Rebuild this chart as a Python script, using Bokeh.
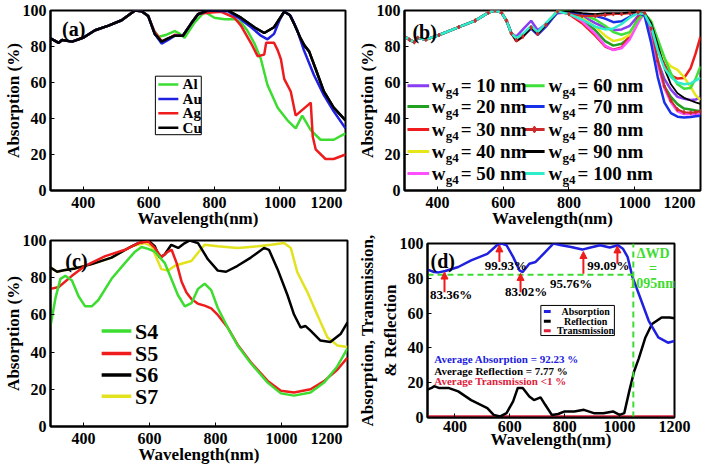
from bokeh.plotting import figure
from bokeh.layouts import column, row
from bokeh.models import Range1d, FixedTicker, Arrow, NormalHead
from bokeh.core.properties import value
from bokeh.embed import file_html
from bokeh.resources import INLINE

FONT = "Liberation Serif"

# ---------------- data ----------------
# (a) metals
CU_X = [300, 325, 335, 366, 401, 436, 477, 517, 543, 558, 578, 598, 618, 639, 659, 679, 704, 730, 750, 780, 841, 881, 922, 952, 982, 1013, 1030, 1045, 1063, 1075, 1089, 1109, 1134, 1164, 1200]
CU_Y = [84.5, 82, 83.6, 82.7, 85, 89, 91.6, 94.6, 98, 100, 99.6, 97, 87, 82.7, 84.5, 86, 86, 93, 97.9, 100, 100, 96, 90.7, 87.5, 90.7, 99.3, 97.5, 92, 84.5, 80.5, 77.3, 67.5, 55, 46, 39]
AU_X = [300, 325, 335, 366, 401, 436, 477, 517, 543, 558, 578, 598, 618, 639, 659, 679, 704, 730, 750, 780, 841, 881, 912, 942, 962, 982, 998, 1013, 1033, 1053, 1073, 1104, 1134, 1164, 1200]
AU_Y = [84.5, 82, 83.6, 82.7, 85, 89, 91.6, 94.6, 98, 100, 99.6, 97, 87, 81.6, 83.6, 86, 86, 93, 97.9, 100, 99.6, 95, 90.7, 86, 84, 87, 94.3, 99.6, 97, 89, 78, 64, 53, 44, 34.5]
AL_X = [300, 325, 335, 366, 401, 436, 477, 517, 543, 558, 578, 598, 615, 630, 649, 679, 695, 709, 740, 770, 800, 831, 861, 881, 900, 922, 942, 962, 993, 1023, 1048, 1068, 1094, 1124, 1164, 1200]
AL_Y = [84.5, 82, 83.6, 82.7, 85, 89, 91.6, 94.6, 98, 100, 99.6, 97, 89, 85.4, 86.2, 88.6, 87, 84.8, 93.4, 99.3, 96, 95.2, 95.2, 93.4, 89, 81.8, 72.9, 58.6, 46, 39, 34.5, 41.6, 33.6, 28.2, 28.2, 31.8]
AG_X = [300, 325, 335, 366, 401, 436, 477, 517, 543, 558, 578, 598, 618, 639, 649, 679, 704, 730, 750, 780, 821, 861, 881, 912, 932, 952, 958, 982, 993, 1003, 1013, 1033, 1048, 1094, 1100, 1109, 1139, 1164, 1200]
AG_Y = [84.5, 82, 83.6, 82.7, 85, 89, 91.6, 94.6, 98, 100, 99.6, 97, 88, 83, 83.2, 86.5, 86, 93, 98, 98.8, 99.3, 96, 91.6, 81.8, 74.6, 75.5, 82.1, 82.1, 78, 72.9, 62, 55, 41.6, 48.8, 30, 22.9, 17.5, 17.5, 20]

# (b) gap width w_g4 sweep
B_X = [300, 315, 330, 340, 365, 405, 465, 515, 555, 575, 595, 610, 625, 640, 660, 685, 705, 730, 765, 800, 840, 880, 910, 935, 960, 985, 1010, 1030, 1050, 1070, 1090, 1110, 1130, 1150, 1170, 1185, 1200]
B_HEAD = [85.5, 83.8, 82.4, 84.8, 83.8, 86.4, 90.8, 94.4, 98.8, 100, 98.8, 94.4, 87.3]
W10 = B_HEAD + [85.5, 89.5, 94.3, 89, 92.5, 98.5, 99, 97, 93, 90.5, 89, 89.5, 91.5, 97, 98, 90, 72, 62, 56, 52, 51, 50.3, 50.5, 52]
W20 = B_HEAD + [84, 86, 91, 87.3, 92, 99.5, 99, 95, 89, 83, 80.5, 81.5, 85, 95, 98, 88, 72, 58, 52, 48, 45.5, 45, 44.5, 44]
W30 = B_HEAD + [83, 85.5, 90.5, 87, 92, 99.5, 98, 93, 86, 80, 78.2, 79.5, 86, 96, 98.5, 92, 80, 70, 64, 62.2, 62.5, 68, 76, 85.5]
W40 = B_HEAD + [84, 86, 91, 87.3, 92, 99.5, 99, 96, 91, 86, 83, 84, 86.5, 94, 98, 94, 83, 73, 69, 67, 63, 57.5, 53, 50.3]
W50 = B_HEAD + [84, 86, 91, 87.3, 92, 99.5, 98.5, 94, 87, 80.5, 78, 79, 84, 93, 99, 88, 70, 57, 49, 44, 42.5, 42.3, 42.3, 42.3]
W60 = B_HEAD + [84.5, 86.5, 91, 87.5, 92.5, 99.5, 99.5, 98, 95, 91.5, 88, 86.5, 88, 95, 98.5, 94, 84, 74, 65, 59, 56.5, 57, 62, 69]
W70 = B_HEAD + [84, 86, 90, 86.5, 91, 99, 99, 98, 97, 95.5, 93.5, 94, 96.5, 99, 97, 82, 63, 49, 43, 41, 40.5, 40.8, 41.3, 41.5]
W80 = B_HEAD + [83.5, 85.5, 90.5, 87, 92, 99.5, 98, 97, 97, 97.5, 98, 98, 98.5, 99, 98.5, 90, 72, 58, 50, 45, 43.5, 43.2, 43.5, 44]
W90 = B_HEAD + [83, 85.5, 90.5, 87, 92, 99.5, 99.5, 98.5, 98, 98.5, 98.5, 98.5, 99, 99, 98.5, 93, 81, 68, 59, 54, 51.5, 50, 49, 48.1]
W100 = B_HEAD + [84.5, 87, 91.5, 88, 93, 99.5, 98, 95, 91, 89.5, 90, 92.5, 96, 98.5, 98, 91, 78, 68, 63, 60, 59, 59.5, 61, 62.6]
W_LABELS = ["= 10 nm", "= 20 nm", "= 30 nm", "= 40 nm", "= 50 nm", "= 60 nm", "= 70 nm", "= 80 nm", "= 90 nm", "= 100 nm"]

# (c) structures
S4_X = [300, 315, 330, 345, 365, 385, 405, 425, 445, 485, 526, 556, 576, 596, 616, 646, 666, 686, 707, 727, 747, 767, 787, 807, 837, 867, 907, 958, 998, 1038, 1088, 1129, 1169, 1200]
S4_Y = [54, 69, 79.4, 81, 78.5, 70, 64.6, 64.6, 68, 79.4, 88, 94, 96.5, 95.5, 94, 88, 79.4, 70.7, 64.6, 66.3, 74, 76.8, 73.3, 63.7, 53.2, 43.6, 34, 23.6, 17.8, 16.6, 18.3, 23.6, 32.3, 42]
S5_X = [300, 325, 365, 405, 466, 526, 566, 596, 616, 636, 656, 667, 682, 697, 712, 727, 747, 767, 787, 807, 837, 867, 907, 958, 998, 1038, 1088, 1129, 1169, 1200]
S5_Y = [74, 75, 81, 86.4, 91.6, 95, 98.6, 99.5, 96, 91, 94, 95, 88, 78, 72, 68.5, 66, 65, 63.5, 60, 53.2, 44, 34.5, 24.5, 19.2, 18.3, 20, 24.4, 30.5, 37]
S6_X = [300, 320, 340, 375, 425, 485, 546, 566, 596, 616, 631, 646, 666, 687, 707, 722, 747, 777, 807, 832, 867, 907, 947, 962, 988, 1018, 1038, 1058, 1073, 1088, 1118, 1148, 1179, 1200]
S6_Y = [85.5, 83.2, 84, 85, 87.3, 90.8, 96.9, 98.6, 100, 96.9, 90.8, 92.5, 97.7, 96, 98.6, 100, 98.6, 89.9, 83.8, 83.2, 86.4, 90.8, 96, 95, 84.6, 70.7, 60.2, 53.2, 54, 51.5, 46.2, 45.4, 49.7, 56]
S7_X = [300, 320, 340, 375, 425, 485, 546, 586, 606, 636, 656, 677, 707, 727, 747, 767, 807, 867, 928, 968, 1008, 1028, 1048, 1078, 1108, 1139, 1169, 1200]
S7_Y = [85.5, 83.2, 84, 85, 87.3, 90.8, 96.9, 98.6, 96.9, 84.6, 83.8, 86.4, 88, 89, 93.4, 97.7, 96.9, 96, 96.9, 97.7, 98.6, 96, 82.9, 72.4, 60.2, 48, 43.6, 42.8]

# (d) absorption / reflection / transmission
ABS_X = [300, 324, 341, 365, 412, 459, 518, 553, 570, 588, 612, 635, 647, 671, 694, 712, 741, 759, 788, 823, 864, 894, 929, 964, 994, 1012, 1029, 1047, 1070, 1106, 1141, 1176, 1200]
ABS_Y = [85, 83.6, 83.4, 84.2, 86.5, 90.3, 94, 99, 100, 99, 92.3, 84.6, 83.6, 88.4, 89.4, 92.3, 97, 100, 99, 98, 96.5, 97.7, 99, 97.7, 99, 97, 92.3, 80.7, 71, 55.6, 46, 43, 44]
REF_X = [300, 315, 324, 341, 376, 412, 459, 518, 541, 565, 588, 612, 629, 647, 671, 688, 712, 729, 753, 776, 800, 835, 870, 906, 941, 976, 1000, 1017, 1035, 1053, 1070, 1094, 1118, 1153, 1182, 1200]
REF_Y = [16, 17, 18, 17, 17, 15, 10, 5.4, 1.5, 0.6, 2.5, 9.3, 17, 17, 12, 10, 11.6, 7.3, 1.5, 2, 3.5, 3.5, 4.4, 2.5, 2.5, 3.5, 1.5, 2.5, 15, 26.6, 34, 46, 53.7, 57.5, 57.5, 57]
TRA_X = [300, 1200]
TRA_Y = [0.5, 0.5]
PEAK_X = [362, 562, 639, 868, 992]
PEAK_LABELS = ["83.36%", "99.93%", "83.02%", "95.76%", "99.09%"]
WD_EDGE = 1050
WD_LEVEL = 82

X_TICKS = [400, 600, 800, 1000, 1200]
Y_TICKS = [0, 20, 40, 60, 80, 100]

GREEN = "#3ddc30"
BLUE = "#2020e0"
RED = "#ee1c1c"
YEL = "#e2e21e"
CRIMSON = "#e0203a"


def make_fig(w, h, bl, br, bt, bb, ylabel, shift_last=True):
    p = figure(width=w, height=h, x_range=Range1d(300, 1200), y_range=Range1d(0, 100),
               output_backend="svg", toolbar_location=None,
               min_border_left=bl, min_border_right=br, min_border_top=bt, min_border_bottom=bb)
    try:
        p.frame_align = False
    except Exception:
        pass
    p.grid.visible = False
    p.outline_line_color = "black"
    p.outline_line_width = 2
    p.background_fill_color = "white"
    p.border_fill_color = "white"
    for ax in (p.xaxis[0], p.yaxis[0]):
        ax.major_tick_in = 4
        ax.major_tick_out = 0
        ax.minor_tick_line_color = None
        ax.axis_line_width = 2
        ax.major_tick_line_width = 1
        ax.major_label_text_font = FONT
        ax.major_label_text_font_style = "bold"
        ax.major_label_text_font_size = "16px"
        ax.major_label_text_color = "black"
        ax.axis_label_text_font = FONT
        ax.axis_label_text_font_style = "bold"
        ax.axis_label_text_font_size = "17px"
        ax.axis_label_text_color = "black"
    p.xaxis.ticker = FixedTicker(ticks=X_TICKS)
    p.yaxis.ticker = FixedTicker(ticks=Y_TICKS)
    p.xaxis.axis_label = "Wavelength(nm)"
    p.yaxis.axis_label = ylabel
    p.xaxis.major_label_standoff = 3
    p.xaxis.axis_label_standoff = -5
    p.yaxis.major_label_standoff = 4
    p.yaxis.axis_label_standoff = -3
    if shift_last:
        # last label sits flush with the right edge of the frame
        p.xaxis.major_label_overrides = {1200: "1200" + "\u00a0" * 3}
    return p


def panel_tag(p, x, y, tag):
    p.text(x=[x], y=[y], text=[tag], text_font=value(FONT), text_font_style="bold",
           text_font_size="20px", text_align="left", text_baseline="top", text_color="black")


# ---------------- (a) ----------------
pa = make_fig(354, 230, 48, 9, 10, 37, "Absorption (%)")
for xs, ys, c in ((CU_X, CU_Y, "black"), (AL_X, AL_Y, GREEN), (AG_X, AG_Y, RED), (AU_X, AU_Y, BLUE)):
    pa.line(xs, ys, line_color=c, line_width=2.5)
pa.line(CU_X, CU_Y, line_color="black", line_width=2.5)
panel_tag(pa, 335, 96, "(a)")
pa.quad(left=[620], right=[760], bottom=[31], top=[63.5], fill_color="white", line_color="black", line_width=1)
A_NAMES = ["Al", "Au", "Ag", "Cu"]
A_COLORS = [GREEN, BLUE, RED, "black"]
A_ROWS = [58.9, 50.9, 42.9, 34.9]
pa.segment(x0=[629] * 4, x1=[690] * 4, y0=A_ROWS, y1=A_ROWS, line_color=A_COLORS, line_width=2.5)
pa.text(x=[703] * 4, y=A_ROWS, text=A_NAMES, text_font=value(FONT), text_font_style="bold",
        text_font_size="15px", text_baseline="middle", text_align="left", text_color="black")

# ---------------- (b) ----------------
pb = make_fig(353, 230, 45, 7, 10, 35, "Absorption (%)")
B_SERIES = [W10, W20, W30, W40, W50, W60, W70, W80, W90, W100]
B_COLORS = ["#8a3cf0", "#22a022", "#ee1c1c", "#e6e61a", "#ff50ff", "#3fe03a", "#1830e8", "#cc2a2a", "black", "#30ecc8"]
B_WIDTH = [2.5, 2.5, 2.5, 2.5, 2.5, 2.5, 2.5, 2, 1.8, 2.5]
for ys, c, lw in zip(B_SERIES, B_COLORS, B_WIDTH):
    pb.line(B_X, ys, line_color=c, line_width=lw)
pb.scatter(B_X, W80, marker="diamond", size=4, color="#cc2a2a")
panel_tag(pb, 324, 94, "(b)")
ROWS_B = [58.2, 46.6, 33.9, 21.7, 9.5]
LX0 = [309] * 5 + [664] * 5
LX1 = [375] * 5 + [726] * 5
LTX = [383] * 5 + [738] * 5
LY = ROWS_B + ROWS_B
pb.segment(x0=LX0, x1=LX1, y0=LY, y1=LY, line_color=B_COLORS, line_width=3)
pb.scatter(x=[695], y=[ROWS_B[2]], marker="diamond", size=7, color="#cc2a2a")
pb.text(x=LTX, y=LY, text=["w"] * 10, text_font=value(FONT), text_font_style="bold",
        text_font_size="19px", text_baseline="middle", text_align="left", text_color="black")
pb.text(x=LTX, y=LY, text=["g4"] * 10, x_offset=14, y_offset=6, text_font=value(FONT), text_font_style="bold",
        text_font_size="13px", text_baseline="middle", text_align="left", text_color="black")
pb.text(x=LTX, y=LY, text=W_LABELS, x_offset=29, text_font=value(FONT), text_font_style="bold",
        text_font_size="19px", text_baseline="middle", text_align="left", text_color="black")

# ---------------- (c) ----------------
pc = make_fig(354, 236, 45, 7, 10, 38, "Absorption (%)")
for xs, ys, c in ((S7_X, S7_Y, YEL), (S6_X, S6_Y, "black"), (S5_X, S5_Y, RED), (S4_X, S4_Y, GREEN)):
    pc.line(xs, ys, line_color=c, line_width=2.5)
panel_tag(pc, 345, 95, "(c)")
C_ROWS = [51.3, 39.3, 27.7, 16.2]
C_NAMES = ["S4", "S5", "S6", "S7"]
C_COLORS = [GREEN, RED, "black", YEL]
pc.segment(x0=[455] * 4, x1=[545] * 4, y0=C_ROWS, y1=C_ROWS, line_color=C_COLORS, line_width=3.5)
pc.text(x=[556] * 4, y=C_ROWS, text=C_NAMES, text_font=value(FONT), text_font_style="bold",
        text_font_size="22px", text_baseline="middle", text_align="left", text_color="black")

# ---------------- (d) ----------------
pd = make_fig(353, 236, 65, 33, 13, 49, "Absorption, Transmission,\n& Reflection", shift_last=False)
pd.line(TRA_X, TRA_Y, line_color=CRIMSON, line_width=3)
pd.line(REF_X, REF_Y, line_color="black", line_width=2.5)
pd.line(ABS_X, ABS_Y, line_color=BLUE, line_width=2.5)
pd.line([300, WD_EDGE], [WD_LEVEL, WD_LEVEL], line_color=GREEN, line_width=2, line_dash="6 4")
pd.line([WD_EDGE, WD_EDGE], [0, 100], line_color=GREEN, line_width=2, line_dash="6 4")
panel_tag(pd, 311, 96.5, "(d)")
ARROW_Y0 = [72, 89.4, 72, 82.6, 88.4]
ARROW_Y1 = [83.6, 99.2, 82.8, 95.4, 98.6]
for xa, y0, y1 in zip(PEAK_X, ARROW_Y0, ARROW_Y1):
    pd.add_layout(Arrow(end=NormalHead(size=7, fill_color=RED, line_color=RED),
                        x_start=xa, y_start=y0, x_end=xa, y_end=y1, line_color=RED, line_width=2))
pd.text(x=[386, 586, 659, 823, 959], y=[70.7, 87.4, 72.4, 77.2, 87.4], text=PEAK_LABELS,
        text_font=value(FONT), text_font_style="bold", text_font_size="13px",
        text_align="center", text_baseline="middle", text_color="black")
pd.text(x=[1122, 1122, 1122], y=[94, 85.5, 76.8], text=["\u0394WD", "=", "1095nm"],
        text_font=value(FONT), text_font_style="bold", text_font_size="14px",
        text_align="center", text_baseline="middle", text_color=GREEN)
pd.quad(left=[713], right=[981], bottom=[47.1], top=[64.4], fill_color="white", line_color="black", line_width=1)
D_ROWS = [60.9, 55.3, 49.9]
pd.segment(x0=[724] * 3, x1=[749] * 3, y0=D_ROWS, y1=D_ROWS, line_color=[BLUE, "black", CRIMSON], line_width=3)
pd.text(x=[876] * 3, y=D_ROWS, text=["Absorption", "Reflection", "Transmission"],
        text_font=value(FONT), text_font_style="bold", text_font_size="10px",
        text_align="center", text_baseline="middle", text_color="black")
pd.text(x=[325] * 3, y=[33.7, 27, 20.9],
        text=["Average Absorption = 92.23 %", "Average Reflection = 7.77 %", "Average Transmission <1 %"],
        text_font=value(FONT), text_font_style="bold", text_font_size="11px",
        text_align="left", text_baseline="middle", text_color=[BLUE, "black", CRIMSON])

layout = column(row(pa, pb), row(pc, pd))
open("out.html", "w").write(file_html(layout, INLINE))
